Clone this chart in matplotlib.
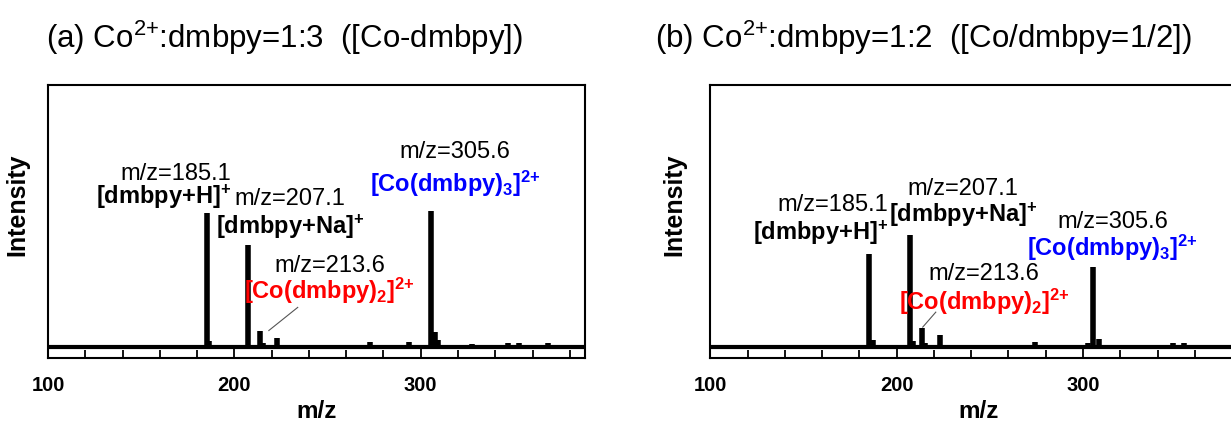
import matplotlib
matplotlib.use("Agg")
import matplotlib.pyplot as plt
from matplotlib.ticker import MultipleLocator

plt.rcParams['font.family'] = ['Liberation Sans', 'DejaVu Sans']
plt.rcParams['mathtext.fontset'] = 'custom'
plt.rcParams['mathtext.rm'] = 'Liberation Sans'
plt.rcParams['mathtext.bf'] = 'Liberation Sans:bold'
plt.rcParams['mathtext.default'] = 'regular'

# peak lists (intensity scaled so the biggest peak in (a) = 100)
mz_a = [155.4, 185.1, 186.6, 207.1, 213.6, 215.2, 222.9, 234, 245.6, 273, 293.8,
        305.6, 307.8, 309.5, 327.4, 332.5, 336, 346.7, 353, 360, 368.4]
int_a = [1.5, 98.5, 4, 75, 12, 3, 6.5, 1, 1, 3.5, 3.5,
         100, 11, 5, 2, 1, 1, 2.5, 2.5, 1.5, 2.5]

mz_b = [164.5, 185.1, 187.2, 207.1, 208.8, 213.6, 215.3, 223.2, 248, 274, 302.7,
        305.6, 308.5, 328.7, 332, 348.5, 354, 360, 370]
int_b = [1, 68, 5, 82, 4, 14, 3, 9, 1, 3.5, 3,
         59, 6, 1.5, 1.5, 2.5, 2.5, 1.5, 1.5]

titles = [r"(a) Co$^{2{+}}$:dmbpy=1:3  ([Co-dmbpy])",
          r"(b) Co$^{2{+}}$:dmbpy=1:2  ([Co/dmbpy=1/2])"]

# (m/z label, species label, colour, x, y of m/z line, y of species line, ha)
labels_a = [
    ("m/z=185.1", r"[dmbpy+H]$^{\mathbf{{+}}}$", "black", 198.5, 127, 110, "right"),
    ("m/z=207.1", r"[dmbpy+Na]$^{\mathbf{{+}}}$", "black", 230, 109, 88, "center"),
    ("m/z=213.6", r"[Co(dmbpy)$_{\mathbf{2}}$]$^{\mathbf{2{+}}}$", "#ff0000", 251, 59.5, 41, "center"),
    ("m/z=305.6", r"[Co(dmbpy)$_{\mathbf{3}}$]$^{\mathbf{2{+}}}$", "#0000ff", 318.5, 143, 120, "center"),
]
labels_b = [
    ("m/z=185.1", r"[dmbpy+H]$^{\mathbf{{+}}}$", "black", 195.5, 104, 84, "right"),
    ("m/z=207.1", r"[dmbpy+Na]$^{\mathbf{{+}}}$", "black", 235.5, 116, 97, "center"),
    ("m/z=213.6", r"[Co(dmbpy)$_{\mathbf{2}}$]$^{\mathbf{2{+}}}$", "#ff0000", 247, 53.5, 33, "center"),
    ("m/z=305.6", r"[Co(dmbpy)$_{\mathbf{3}}$]$^{\mathbf{2{+}}}$", "#0000ff", 316, 92, 73, "center"),
]
leaders = [((234, 29), (218.5, 12)), ((221, 25.5), (214, 14.5))]

fig = plt.figure(figsize=(12.31, 4.24), dpi=100)
ax_a = fig.add_axes([0.039, 0.156, 0.436, 0.644])
ax_b = fig.add_axes([0.577, 0.156, 0.436, 0.644])

panels = [(ax_a, mz_a, int_a, labels_a, leaders[0], 0.037, -0.035),
          (ax_b, mz_b, int_b, labels_b, leaders[1], 0.532, -0.045)]

for i, (ax, mz, inten, labs, lead, tx, ylx) in enumerate(panels):
    ax.axhline(0, color="black", lw=3)
    ax.vlines(mz, 0, inten, color="black", lw=4)
    ax.set_xlim(100, 388)
    ax.set_ylim(-8.1, 192.6)
    ax.xaxis.set_major_locator(MultipleLocator(100))
    ax.xaxis.set_minor_locator(MultipleLocator(20))
    ax.tick_params(axis="x", which="major", direction="in", length=8, width=1.3,
                   labelsize=14.5, pad=13)
    ax.tick_params(axis="x", which="minor", direction="in", length=5.5, width=1.3)
    ax.set_yticks([])
    for lbl in ax.get_xticklabels():
        lbl.set_fontweight("bold")
    for sp in ax.spines.values():
        sp.set_linewidth(1.5)
    ax.set_xlabel("m/z", fontsize=17.5, fontweight="bold", labelpad=4)
    ax.set_ylabel("Intensity", fontsize=18, fontweight="bold")
    ax.yaxis.set_label_coords(ylx, 0.56)

    for mzt, spec, col, x, y1, y2, ha in labs:
        ax.text(x, y1, mzt, fontsize=17, ha=ha, va="center")
        ax.text(x, y2, spec, fontsize=17, ha=ha, va="center",
                fontweight="bold", color=col)
    ax.plot([lead[0][0], lead[1][0]], [lead[0][1], lead[1][1]],
            color="#555555", lw=0.8)

    fig.text(tx, 0.91, titles[i], fontsize=22.5, ha="left", va="center")

fig.savefig("out.png", dpi=100)
